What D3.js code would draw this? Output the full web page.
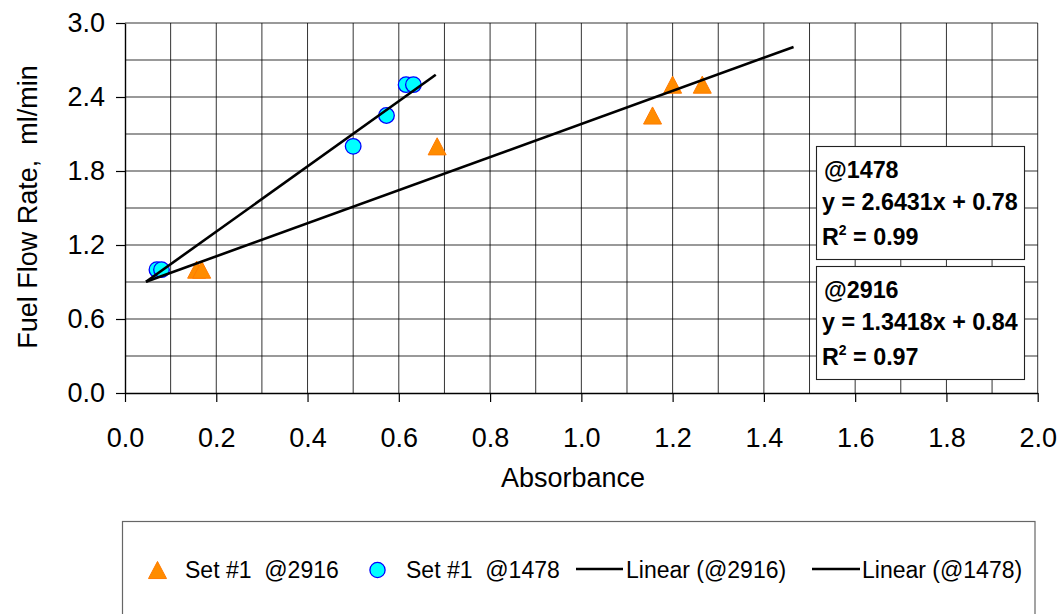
<!DOCTYPE html>
<html>
<head>
<meta charset="utf-8">
<script src="https://cdn.jsdelivr.net/npm/d3@7"></script>
<style>
  html, body { margin: 0; padding: 0; background: #fff; }
  svg { display: block; font-family: "Liberation Sans", Arial, sans-serif; }
</style>
</head>
<body>
<svg id="chart" width="1064" height="614"></svg>
<script>
// Measured absorbance vs. fuel flow rate, two wavenumber sets
const set2916Absorbance = [0.157, 0.168, 0.684, 1.156, 1.200, 1.265];
const set2916Flow       = [1.00, 1.00, 2.00, 2.25, 2.50, 2.50];
const set1478Absorbance = [0.070, 0.080, 0.500, 0.573, 0.616, 0.632];
const set1478Flow       = [1.00, 1.00, 2.00, 2.25, 2.50, 2.50];

// Linear fits (slope, intercept) and the absorbance span each fit line covers
const fit2916 = { slope: 1.3418, intercept: 0.84, r2: 0.97, span: [0.046, 1.465] };
const fit1478 = { slope: 2.6431, intercept: 0.78, r2: 0.99, span: [0.046, 0.681] };

// Axis tick values
const xTickValues = [0.0, 0.2, 0.4, 0.6, 0.8, 1.0, 1.2, 1.4, 1.6, 1.8, 2.0];
const yTickValues = [0.0, 0.6, 1.2, 1.8, 2.4, 3.0];
const xGridValues = [0.1,0.2,0.3,0.4,0.5,0.6,0.7,0.8,0.9,1.0,1.1,1.2,1.3,1.4,1.5,1.6,1.7,1.8,1.9,2.0];
const yGridValues = [0.3,0.6,0.9,1.2,1.5,1.8,2.1,2.4,2.7,3.0];

// Legend entries
const legendLabels = ["Set #1  @2916", "Set #1  @1478", "Linear (@2916)", "Linear (@1478)"];

const svg = d3.select("#chart");
const x = d3.scaleLinear().domain([0, 2]).range([125, 1037.7]);
const y = d3.scaleLinear().domain([0, 3]).range([393, 23]);

const fmt = d3.format(".1f");

// Gridlines
const grid = svg.append("g").attr("stroke", "#000").attr("stroke-width", 1).attr("stroke-opacity", 0.8);
grid.selectAll("line.v").data(xGridValues).join("line")
  .attr("class", "v")
  .attr("x1", d => x(d)).attr("x2", d => x(d))
  .attr("y1", y(0)).attr("y2", y(3));
grid.selectAll("line.h").data(yGridValues).join("line")
  .attr("class", "h")
  .attr("x1", x(0)).attr("x2", x(2))
  .attr("y1", d => y(d)).attr("y2", d => y(d));

// Axes
const xAxis = svg.append("g")
  .attr("transform", `translate(0,${y(0)})`)
  .call(d3.axisBottom(x).tickValues(xTickValues).tickFormat(fmt).tickSize(9).tickSizeOuter(0).tickPadding(26));
const yAxis = svg.append("g")
  .attr("transform", `translate(${x(0)},0)`)
  .call(d3.axisLeft(y).tickValues(yTickValues).tickFormat(fmt).tickSize(9).tickSizeOuter(0).tickPadding(11));
[xAxis, yAxis].forEach(g => {
  g.select(".domain").attr("stroke", "#000").attr("stroke-width", 1.4);
  g.selectAll(".tick line").attr("stroke", "#000").attr("stroke-width", 1.2);
  g.selectAll(".tick text")
    .attr("fill", "#000")
    .style("font-family", '"Liberation Sans", Arial, sans-serif')
    .style("font-size", "27px");
});

// Axis titles
svg.append("text")
  .attr("x", 573).attr("y", 487)
  .attr("text-anchor", "middle")
  .style("font-size", "27px")
  .text("Absorbance");
svg.append("text")
  .attr("transform", "translate(37,207) rotate(-90)")
  .attr("text-anchor", "middle")
  .style("font-size", "27px")
  .style("white-space", "pre")
  .text("Fuel Flow Rate,  ml/min");

// Triangle marker shape centred on the data point
const triangleSymbol = {
  draw(ctx, size) {
    const w = Math.sqrt(size);
    const h = w * 0.95;
    ctx.moveTo(0, -h / 2);
    ctx.lineTo(w / 2, h / 2);
    ctx.lineTo(-w / 2, h / 2);
    ctx.closePath();
  }
};

// Markers
const pts2916 = set2916Absorbance.map((a, i) => [a, set2916Flow[i]]);
const pts1478 = set1478Absorbance.map((a, i) => [a, set1478Flow[i]]);

svg.append("g").selectAll("path").data(pts2916).join("path")
  .attr("transform", d => `translate(${x(d[0])},${y(d[1])})`)
  .attr("d", d3.symbol().type(triangleSymbol).size(18 * 18))
  .attr("fill", "#FF8C00")
  .attr("stroke", "#FF7A00")
  .attr("stroke-width", 1);

svg.append("g").selectAll("circle").data(pts1478).join("circle")
  .attr("cx", d => x(d[0])).attr("cy", d => y(d[1]))
  .attr("r", 7.8)
  .attr("fill", "#00FFFF")
  .attr("stroke", "#0000FF")
  .attr("stroke-width", 1.3);

// Trend lines
const line = d3.line().x(d => x(d[0])).y(d => y(d[1]));
[fit2916, fit1478].forEach(f => {
  const ends = f.span.map(a => [a, f.slope * a + f.intercept]);
  svg.append("path")
    .attr("d", line(ends))
    .attr("fill", "none")
    .attr("stroke", "#000")
    .attr("stroke-width", 2.6);
});

// Fit equation boxes
const boxes = [
  { name: "@1478", fit: fit1478, top: 146 },
  { name: "@2916", fit: fit2916, top: 266 }
];
boxes.forEach(b => {
  const g = svg.append("g").style("font-weight", "bold").style("font-size", "23.3px");
  g.append("rect")
    .attr("x", 816.5).attr("y", b.top + 0.5)
    .attr("width", 208).attr("height", 113)
    .attr("fill", "#fff").attr("stroke", "#222").attr("stroke-width", 1.1);
  g.append("text").attr("x", 824).attr("y", b.top + 32).text(b.name);
  g.append("text").attr("x", 822).attr("y", b.top + 64)
    .text(`y = ${b.fit.slope}x + ${b.fit.intercept}`);
  const r = g.append("text").attr("x", 822).attr("y", b.top + 99);
  r.append("tspan").text("R");
  r.append("tspan").attr("dy", -10).style("font-size", "14px").text("2");
  r.append("tspan").attr("dy", 10).text(` = ${b.fit.r2.toFixed(2)}`);
});

// Legend
const legend = svg.append("g");
legend.append("rect")
  .attr("x", 122.5).attr("y", 521.5).attr("width", 912.5).attr("height", 130)
  .attr("fill", "#fff").attr("stroke", "#666").attr("stroke-width", 1.2);
const legendY = 570;
const lg = legend.append("g").style("font-size", "23px");
// marker entries
lg.append("path")
  .attr("transform", `translate(157.5,${legendY})`)
  .attr("d", d3.symbol().type(triangleSymbol).size(18 * 18))
  .attr("fill", "#FF8C00").attr("stroke", "#FF7A00");
lg.append("circle").attr("cx", 377.5).attr("cy", legendY).attr("r", 7.6)
  .attr("fill", "#00FFFF").attr("stroke", "#0000FF").attr("stroke-width", 1.3);
lg.append("line").attr("x1", 576).attr("x2", 623).attr("y1", legendY - 1).attr("y2", legendY - 1)
  .attr("stroke", "#000").attr("stroke-width", 2.4);
lg.append("line").attr("x1", 812).attr("x2", 860).attr("y1", legendY - 1).attr("y2", legendY - 1)
  .attr("stroke", "#000").attr("stroke-width", 2.4);
const legendTextX = [185, 406, 626, 862];
lg.selectAll("text").data(legendLabels).join("text")
  .attr("x", (d, i) => legendTextX[i])
  .attr("y", legendY + 8)
  .style("white-space", "pre")
  .text(d => d);
</script>
</body>
</html>
